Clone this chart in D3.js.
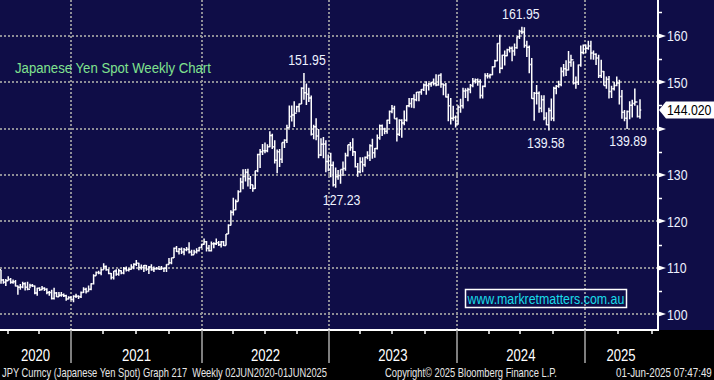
<!DOCTYPE html>
<html><head><meta charset="utf-8">
<script src="https://cdn.jsdelivr.net/npm/d3@7"></script>
<style>html,body{margin:0;padding:0;background:#000;} svg{display:block}</style>
</head><body><svg id="c" width="714" height="380"></svg>
<script>
// ---------------- DATA ----------------
// Weekly (Friday) bars, 12 Jun 2020 .. 30 May 2025
const firstWeek = new Date(2020, 5, 12);
const lastWeek = new Date(2025, 4, 30);
const firstOpen = 109.6;
const highs = [
 // 2020
 109.6,107.6,107.6,108.2,107.8,107.5,107.4,106.2,106.5,107.0,106.9,107.0,106.6,106.5,106.2,105.7,105.8,106.1,105.8,105.6,105.0,105.3,105.7,104.8,104.8,104.8,104.5,104.2,103.9,
 // 2021
 103.9,104.1,104.4,104.1,104.9, 105.8,105.7,106.2,106.7, 108.6,109.2,109.4,109.8, 110.97,110.5,109.8,108.9,109.3, 109.7,109.8,109.5,110.2, 110.3,109.9,110.8,111.0, 111.7,111.1,110.7,110.6,110.6, 110.4,110.8,110.3,110.2, 110.4,110.4,110.1,110.8, 112.1,112.2,114.4,114.7,114.3, 114.4,114.3,114.5,115.5, 113.9,113.9,114.2,114.5,115.2,
 // 2022
 116.35,115.8,114.9,115.7, 115.5,116.3,115.8,115.8, 115.8,117.3,119.4,122.4, 125.1,124.7,126.7,129.4,131.25, 131.3,131.35,129.8,127.9, 130.9,134.6,135.6,136.7, 137.0,136.6,139.4,138.9,137.5, 135.5,135.6,137.0,137.7, 140.8,144.99,144.96,145.9,144.9, 145.4,148.9,151.95,149.7, 148.8,147.1,140.8,142.2, 139.9,137.9,138.2,137.5,134.4,
 // 2023
 134.8,132.9,131.6,131.1, 131.2,132.9,134.8,136.5, 137.1,137.9,135.1,132.6,133.8, 133.8,134.0,135.1,136.6, 137.8,135.8,138.7,140.9, 140.9,140.2,141.9,143.9,145.07, 144.9,142.4,142.0,142.0, 143.9,145.0,146.6,146.6, 147.4,147.9,147.9,148.5,149.7, 150.2,149.8,150.1,150.8, 151.7,151.6,151.9,149.7, 149.8,147.5,146.6,144.9,142.8,
 // 2024
 145.0,146.4,148.8,148.7, 148.8,149.6,150.9,150.8, 150.8,150.6,149.3,151.9,151.97, 151.8,153.4,154.8,158.4, 160.2,155.9,156.8,157.2,157.7, 157.7,158.3,159.8,161.3, 161.95,161.8,158.9,157.9, 155.2,147.9,149.4,148.0,147.2, 147.2,143.5,144.5,146.5, 149.0,149.4,150.3,153.2, 153.9,154.7,156.7,155.9,154.5, 151.2,153.8,157.9,158.1,
 // 2025
 158.1,158.9,158.9,156.8,156.2, 155.9,154.8,152.4,151.2, 151.3,149.2,150.1,151.2, 150.5,148.3,144.0,143.9, 145.9,146.2,148.65,145.0,146.3
];
const lows = [
 // 2020
 106.6,106.6,106.1,107.2,106.6,106.6,106.0,104.2,105.3,105.6,105.1,105.2,105.6,105.9,104.3,104.0,105.0,105.2,105.0,104.3,104.0,103.2,103.2,103.7,103.7,103.8,103.7,102.9,103.2,
 // 2021
 103.0,102.6,103.5,103.3,103.5, 104.6,104.5,104.9,105.2, 106.4,108.3,108.6,108.4, 109.6,109.4,108.6,107.5,107.5, 108.3,108.3,108.6,108.6, 109.2,109.2,109.6,109.7, 110.4,109.5,109.6,109.1,109.4, 108.7,109.4,109.1,109.6, 109.6,109.6,109.1,109.1, 110.7,110.8,112.1,113.4,112.9, 113.0,112.7,113.6,113.1, 112.6,112.9,113.1,113.5,114.3,
 // 2022
 115.0,113.5,113.5,113.5, 114.2,114.9,114.7,114.4, 114.7,114.8,117.3,119.1, 121.3,122.4,124.3,126.3,126.95, 128.6,127.5,127.0,126.4, 127.0,130.6,131.5,134.3, 134.7,134.9,136.0,135.6,132.5, 130.4,131.7,132.6,135.8, 136.9,140.2,141.5,140.35,143.5, 143.5,145.3,146.2,145.1, 145.7,138.5,137.7,137.5, 133.6,134.1,133.6,130.6,130.8,
 // 2023
 129.5,127.5,127.23,129.0, 128.1,129.8,130.9,134.0, 135.2,134.1,131.6,129.6,130.4, 130.6,131.8,133.4,133.0, 133.5,133.7,135.5,137.6, 138.4,138.8,138.9,141.0,143.3, 142.1,137.2,138.4,138.0, 140.7,141.5,144.6,144.5, 144.4,145.9,145.9,147.3,148.1, 147.3,148.2,149.0,149.3, 149.1,149.2,148.8,147.2, 146.7,141.6,140.9,141.7,140.25,
 // 2024
 140.8,143.4,144.3,146.6, 145.9,147.6,148.9,149.7, 149.2,146.5,146.5,148.9,150.8, 150.8,151.5,153.2,154.5, 151.9,152.8,153.6,155.6,156.4, 154.5,155.7,157.2,159.3, 160.3,157.4,155.4,151.9, 146.4,141.7,145.2,143.4,143.5, 141.8,140.7,139.58,141.7, 141.6,147.4,148.8,149.1, 151.2,151.3,152.5,153.3,149.5, 148.6,149.4,153.3,156.0,
 // 2025
 156.2,157.0,154.9,154.8,153.7, 150.9,150.9,149.3,148.6, 146.5,146.6,148.2,149.1, 145.2,142.1,141.6,139.89, 142.0,142.4,144.9,142.4,142.1
];
const closes = [
 // 2020
 107.4,106.9,107.2,107.5,106.9,107.0,106.1,105.8,105.9,106.6,105.8,105.4,106.2,106.1,104.6,105.6,105.3,105.6,105.4,104.7,104.7,103.4,104.6,103.8,104.1,104.2,104.0,103.3,103.6,
 // 2021
 103.2,103.9,103.9,103.8,104.7, 105.4,104.9,105.4,106.6, 108.3,109.0,108.9,109.6, 110.3,109.6,108.8,107.9,109.3, 108.6,109.4,108.9,109.8, 109.5,109.7,110.2,110.8, 111.0,110.1,110.1,110.5,109.7, 110.2,109.6,109.8,109.8, 109.7,109.9,109.9,110.7, 111.1,112.2,114.2,113.5,114.0, 113.4,113.9,114.0,113.4, 112.8,113.4,113.7,114.4,115.1,
 // 2022
 115.6,114.2,113.7,115.2, 115.2,115.4,115.0,115.6, 114.8,117.3,119.2,122.0, 122.5,124.3,126.4,128.5,129.7, 130.6,129.2,127.9,127.1, 130.9,134.4,135.0,135.2, 135.2,136.1,138.5,136.1,133.2, 135.0,133.4,137.0,137.5, 140.2,142.6,142.9,143.3,144.7, 145.3,148.7,147.7,147.4, 146.6,138.8,140.4,138.4, 134.3,136.6,136.7,132.9,131.1,
 // 2023
 132.1,127.9,129.6,129.9, 131.2,131.4,134.2,136.5, 135.9,135.0,131.8,130.7,132.8, 132.2,133.8,134.2,136.3, 134.8,135.7,138.0,140.6, 139.9,139.4,141.8,143.7,144.3, 142.1,138.8,141.8,141.2, 141.8,144.9,145.4,146.4, 146.2,147.8,147.9,148.4,149.4, 149.3,149.6,149.9,149.7, 149.4,151.5,149.6,149.4, 146.8,144.9,142.2,142.4,141.0,
 // 2024
 144.6,144.9,148.1,148.2, 148.4,149.3,150.2,150.5, 150.1,147.1,149.1,151.4,151.3, 151.6,153.3,154.6,158.3, 153.0,155.8,155.7,157.0,157.3, 156.7,157.4,159.8,160.9, 160.8,157.9,157.5,153.8, 146.5,147.6,147.6,144.4,146.2, 142.3,140.8,143.9,142.2, 148.7,149.1,149.5,152.3, 152.9,152.6,154.3,154.8,149.8, 150.0,153.7,156.4,157.9,
 // 2025
 157.3,157.8,156.3,156.0,155.2, 151.4,152.3,149.3,150.6, 148.0,148.6,149.3,149.8, 146.9,143.5,142.2,143.7, 145.0,145.4,145.7,142.6,144.02
];
const yTicks = [100, 110, 120, 130, 140, 150, 160];
const yMinorTicks = [105, 115, 125, 135, 145, 155, 165];
const yearLabels = ["2020", "2021", "2022", "2023", "2024", "2025"];
const annotations = [
  {date: new Date(2022, 9, 21), value: 151.95, text: "151.95", side: "above", dx: 3},
  {date: new Date(2024, 6, 5),  value: 161.95, text: "161.95", side: "above", dx: -1},
  {date: new Date(2023, 0, 20), value: 127.23, text: "127.23", side: "below", dx: 6},
  {date: new Date(2024, 8, 20), value: 139.58, text: "139.58", side: "below", dx: -3},
  {date: new Date(2025, 3, 25), value: 139.89, text: "139.89", side: "below", dx: 1}
];
const lastValue = 144.02;
const title = "Japanese Yen Spot Weekly Chart";
const watermark = "www.markretmatters.com.au";
const footerLeft = "JPY Curncy (Japanese Yen Spot) Graph 217  Weekly 02JUN2020-01JUN2025";
const footerMid = "Copyright\u00A9 2025 Bloomberg Finance L.P.";
const footerRight = "01-Jun-2025 07:47:49";

// ---------------- LAYOUT ----------------
const W = 714, H = 380, plotR = 657, plotB = 330;
const NAVY = "#0f0d47", GRID = "#8e8e96";
const FONT = "'Liberation Sans', Arial, sans-serif";
const SX = 0.82; // condensed look

function place(sel, fx, fy) {
  sel.attr("x", 0).attr("y", 0)
    .attr("transform", (d, i) => `translate(${fx(d, i)},${fy(d, i)}) scale(${SX},1)`);
  return sel;
}
// single text squeezed horizontally to a measured width
function fitText(parent, str, x0, y0, width, size, fill) {
  const t = parent.append("text").attr("x", 0).attr("y", 0)
    .attr("font-family", FONT).attr("font-size", size).attr("fill", fill)
    .style("white-space", "pre").text(str);
  const len = t.node().getComputedTextLength() || width;
  t.attr("transform", `translate(${x0},${y0}) scale(${width / len},1)`);
  return t;
}

const dates = d3.timeFriday.range(firstWeek, d3.timeDay.offset(lastWeek, 1));
const bars = dates.map((d, i) => ({
  date: d, high: highs[i], low: lows[i], close: closes[i],
  open: i === 0 ? firstOpen : closes[i - 1]
})).filter(b => b.high != null);

const x = d3.scaleTime()
  .domain([firstWeek, new Date(2021,0,1), new Date(2022,0,1), new Date(2023,0,1), new Date(2024,0,1), new Date(2025,0,1), lastWeek])
  .range([1, 71, 202, 329, 456.7, 585, 640]);
const y = d3.scaleLinear().domain([100, 160]).range([314.3, 35.7]);

const svg = d3.select("#c");
svg.append("rect").attr("width", W).attr("height", H).attr("fill", "#000");
svg.append("rect").attr("width", W).attr("height", plotB).attr("fill", NAVY);

svg.append("defs").append("clipPath").attr("id", "clip")
  .append("rect").attr("x", 0).attr("y", 0).attr("width", plotR).attr("height", plotB);

// grid
const yearStarts = yearLabels.slice(1).map(yy => new Date(+yy, 0, 1));
const grid = svg.append("g").attr("stroke", GRID).attr("stroke-width", 2).attr("stroke-dasharray", "2,2");
grid.selectAll("line.h").data(yTicks).join("line")
  .attr("x1", 0).attr("x2", plotR)
  .attr("y1", d => Math.round(y(d))).attr("y2", d => Math.round(y(d)));
grid.selectAll("line.v").data(yearStarts).join("line")
  .attr("x1", d => Math.round(x(d))).attr("x2", d => Math.round(x(d)))
  .attr("y1", 0).attr("y2", plotB);

// bars
const bw = 1.25;
svg.append("g").attr("clip-path", "url(#clip)")
  .selectAll("path").data(bars).join("path")
  .attr("fill", "none").attr("stroke", "#fff").attr("stroke-width", 1.5)
  .attr("d", b => {
    const cx = x(b.date);
    return `M${cx},${y(b.high)}V${y(b.low)}M${cx - bw},${y(b.open)}H${cx}M${cx},${y(b.close)}H${cx + bw}`;
  });

// annotations
place(svg.append("g").selectAll("text").data(annotations).join("text"),
      d => x(d.date) + d.dx, d => y(d.value) + (d.side === "above" ? -8 : 17))
  .attr("text-anchor", "middle")
  .attr("font-family", FONT).attr("font-size", 15).attr("fill", "#eef2ff")
  .text(d => d.text);

// title
fitText(svg, title, 15, 73, 196, 15, "#80e28f");

// watermark
svg.append("rect").attr("x", 465.5).attr("y", 289.5).attr("width", 161).attr("height", 18)
  .attr("fill", "none").attr("stroke", "#fff").attr("stroke-width", 1.5);
fitText(svg, watermark, 467.5, 303.5, 157, 14.5, "#19dce8");

// right axis
svg.append("line").attr("x1", 658).attr("x2", 658).attr("y1", 0).attr("y2", plotB + 1)
  .attr("stroke", "#fff").attr("stroke-width", 2);
svg.append("g").selectAll("path").data(yTicks).join("path")
  .attr("fill", "#fff")
  .attr("d", d => { const yy = Math.round(y(d)); return `M657,${yy - 3}L666,${yy}L657,${yy + 3}Z`; });
svg.append("g").selectAll("line").data(yMinorTicks).join("line")
  .attr("x1", 657).attr("x2", 662)
  .attr("y1", d => Math.round(y(d)) + 0.5).attr("y2", d => Math.round(y(d)) + 0.5)
  .attr("stroke", "#fff").attr("stroke-width", 1.5);
place(svg.append("g").selectAll("text").data(yTicks.filter(v => v !== 140)).join("text"),
      () => 667, d => y(d))
  .attr("dy", "0.36em")
  .attr("font-family", FONT).attr("font-size", 15).attr("fill", "#eef2ff")
  .text(d => d);

// last value tag
const ly = y(lastValue);
svg.append("path").attr("fill", "#fff")
  .attr("d", `M659,${ly}L666,${ly - 8.5}H714V${ly + 8.5}H666Z`);
place(svg.append("text"), () => 667, () => ly)
  .attr("dy", "0.36em")
  .attr("font-family", FONT).attr("font-size", 15).attr("fill", "#000")
  .text(lastValue.toFixed(3));

// bottom axis
svg.append("line").attr("x1", 0).attr("x2", plotR + 1).attr("y1", plotB).attr("y2", plotB)
  .attr("stroke", "#fff").attr("stroke-width", 2);
const quarters = d3.timeMonth.every(3).range(new Date(2020, 6, 1), new Date(2025, 6, 2))
  .filter(d => d.getMonth() !== 0);
svg.append("g").selectAll("line").data(quarters).join("line")
  .attr("x1", d => Math.round(x(d))).attr("x2", d => Math.round(x(d)))
  .attr("y1", plotB).attr("y2", plotB + 4)
  .attr("stroke", "#fff").attr("stroke-width", 1.5);
svg.append("g").selectAll("line").data(yearStarts).join("line")
  .attr("x1", d => Math.round(x(d))).attr("x2", d => Math.round(x(d)))
  .attr("y1", plotB).attr("y2", 363)
  .attr("stroke", "#a8a8a8").attr("stroke-width", 1.5);
place(svg.append("g").selectAll("text").data(yearLabels).join("text"),
  d => {
    const a = Math.max(0, x(new Date(+d, 0, 1))), b = Math.min(plotR, x(new Date(+d + 1, 0, 1)));
    return (a + b) / 2;
  }, () => 361)
  .attr("text-anchor", "middle")
  .attr("font-family", FONT).attr("font-size", 16).attr("fill", "#fff")
  .text(d => d);

// footer
const ft = svg.append("g");
fitText(ft, footerLeft, 2, 377, 325, 12, "#e8e8e8");
fitText(ft, footerMid, 385, 377, 172, 12, "#e8e8e8");
fitText(ft, footerRight, 616, 377, 96, 12, "#e8e8e8");
</script></body></html>
